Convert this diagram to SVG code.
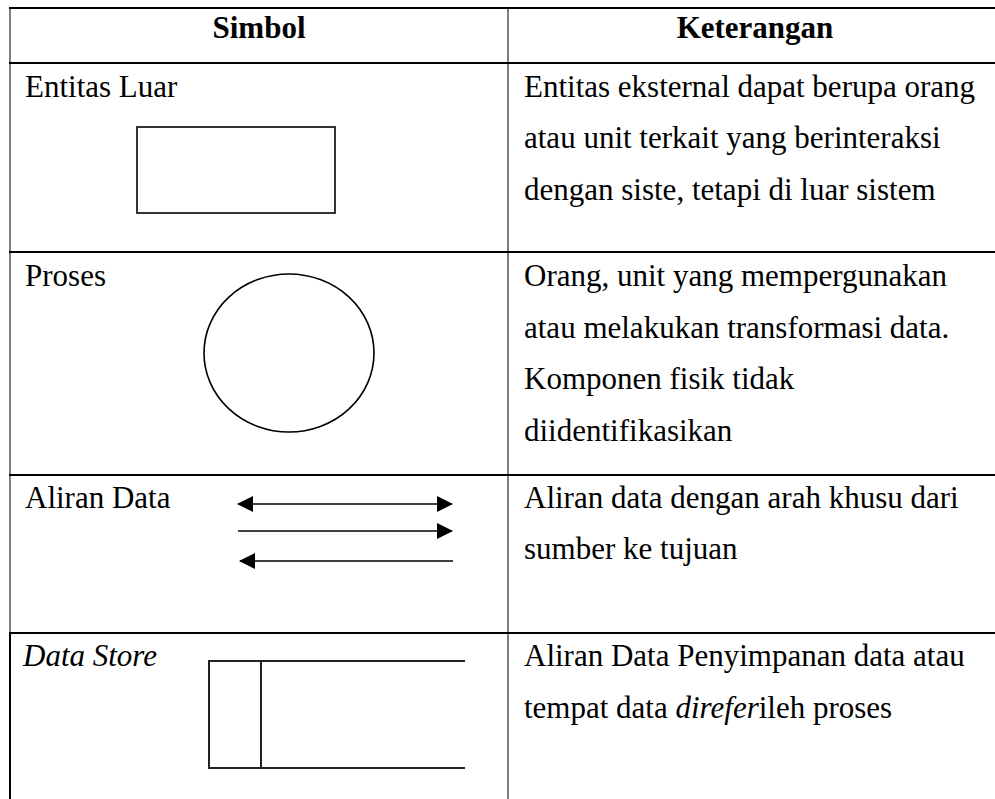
<svg xmlns="http://www.w3.org/2000/svg" width="995" height="799" viewBox="0 0 995 799">
<style>
text{font-family:"Liberation Serif","Times New Roman",serif;font-size:31px;fill:#000}
.b{font-weight:bold}
.i{font-style:italic}
.grid{stroke:#000;fill:none}
.sym{stroke:#000;stroke-width:1.6;fill:none}
.ds{stroke:#222;stroke-width:2;fill:none}
</style>
<defs>
<marker id="ah" viewBox="0 0 16 16" refX="15" refY="8" markerWidth="16" markerHeight="16" markerUnits="userSpaceOnUse" orient="auto-start-reverse">
<path d="M0,0 L16,8 L0,16 Z" fill="#000"/>
</marker>
</defs>
<g id="table" class="grid">
<line x1="9" y1="8" x2="995" y2="8" stroke-width="2"/>
<line x1="10" y1="7" x2="10" y2="633" stroke-width="1"/>
<line x1="10" y1="633" x2="10" y2="799" stroke-width="2"/>
<line x1="508" y1="8" x2="508" y2="799" stroke-width="1"/>
<line x1="9" y1="63" x2="995" y2="63" stroke-width="2"/>
<line x1="9" y1="252" x2="995" y2="252" stroke-width="2"/>
<line x1="9" y1="475" x2="995" y2="475" stroke-width="2"/>
<line x1="9" y1="633" x2="995" y2="633" stroke-width="2"/>
</g>
<g id="header">
<text class="b" x="259" y="38" text-anchor="middle">Simbol</text>
<text class="b" x="755" y="38" text-anchor="middle">Keterangan</text>
</g>
<g id="entitas-luar">
<text x="25" y="97">Entitas Luar</text>
<rect class="sym" x="137" y="127" width="198" height="86"/>
<text x="524" y="97">Entitas eksternal dapat berupa orang</text>
<text x="524" y="148">atau unit terkait yang berinteraksi</text>
<text x="524" y="200">dengan siste, tetapi di luar sistem</text>
</g>
<g id="proses">
<text x="25" y="286">Proses</text>
<ellipse class="sym" cx="289" cy="353" rx="85" ry="79"/>
<text x="524" y="286">Orang, unit yang mempergunakan</text>
<text x="524" y="338">atau melakukan transformasi data.</text>
<text x="524" y="389">Komponen fisik tidak</text>
<text x="524" y="441">diidentifikasikan</text>
</g>
<g id="connectors" class="sym">
<line x1="238" y1="504" x2="452" y2="504" marker-start="url(#ah)" marker-end="url(#ah)"/>
<line x1="238" y1="531" x2="452" y2="531" marker-end="url(#ah)"/>
<line x1="453" y1="561" x2="240" y2="561" marker-end="url(#ah)"/>
</g>
<g id="aliran-data">
<text x="25" y="508">Aliran Data</text>
<text x="524" y="508">Aliran data dengan arah khusu dari</text>
<text x="524" y="559">sumber ke tujuan</text>
</g>
<g id="data-store">
<text class="i" x="23" y="666">Data Store</text>
<line class="ds" x1="208" y1="661" x2="465" y2="661"/>
<line class="ds" x1="208" y1="768" x2="465" y2="768"/>
<line class="ds" x1="209" y1="661" x2="209" y2="768"/>
<line class="ds" x1="261" y1="661" x2="261" y2="768"/>
<text x="524" y="666">Aliran Data Penyimpanan data atau</text>
<text x="524" y="718">tempat data <tspan class="i">direfer</tspan>ileh proses</text>
</g>
</svg>
